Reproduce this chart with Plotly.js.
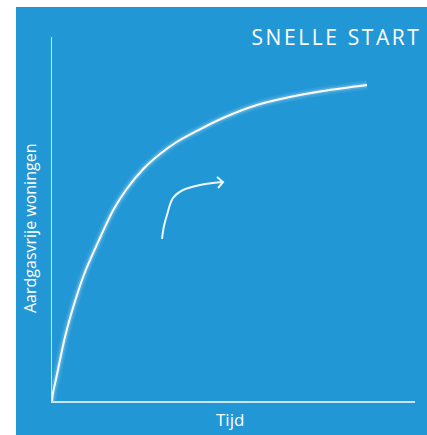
<!DOCTYPE html>
<html>
<head>
<meta charset="utf-8">
<script src="https://cdn.plot.ly/plotly-3.0.1.min.js"></script>
<style>
  html, body { margin: 0; padding: 0; background: #ffffff; width: 427px; height: 435px; overflow: hidden; }
  #chart { position: absolute; left: 16px; top: 7px; width: 411px; height: 428px; }
  .annotation[data-index="0"] .annotation-text { letter-spacing: 2.6px; }
</style>
</head>
<body>
<div id="chart"></div>
<script>
// Curve: growth of gas-free homes over time (relative units 0-100)
const curveX = [0, 0.17, 1.10, 2.20, 3.58, 5.43, 7.25, 9.09, 13.22, 16.89, 20.58, 25.15, 29.75, 34.35, 39.86, 47.11, 56.47, 65.56, 74.66, 86.78];
const curveY = [0, 1.65, 6.04, 11.26, 17.58, 24.45, 30.22, 35.44, 44.78, 52.47, 58.24, 63.74, 67.86, 71.15, 74.18, 77.75, 81.32, 83.52, 85.16, 86.81];
// Decorative arrow (shaft and open head)
const arrowX = [30.30, 30.85, 31.68, 33.33, 36.09, 40.77, 46.83];
const arrowY = [44.51, 48.08, 51.10, 55.77, 57.97, 59.34, 60.16];
const arrowHeadX = [45.45, 47.11, 45.73];
const arrowHeadY = [61.54, 60.16, 58.52];

const titleText = 'SNELLE START';
const xLabel = 'Tijd';
const yLabel = 'Aardgasvrije woningen';

const blue = '#2297d6';
const font = 'Open Sans, Noto Sans, sans-serif';

const traces = [
  { x: curveX, y: curveY, mode: 'lines', line: { color: 'rgba(255,255,255,0.08)', width: 9, shape: 'spline', smoothing: 1 }, hoverinfo: 'skip' },
  { x: curveX, y: curveY, mode: 'lines', line: { color: 'rgba(255,255,255,0.16)', width: 5, shape: 'spline', smoothing: 1 }, hoverinfo: 'skip' },
  { x: curveX, y: curveY, mode: 'lines', line: { color: '#ffffff', width: 2, shape: 'spline', smoothing: 1 } },
  { x: arrowX, y: arrowY, mode: 'lines', line: { color: '#eef7fd', width: 2, shape: 'spline', smoothing: 1 } },
  { x: arrowHeadX, y: arrowHeadY, mode: 'lines', line: { color: '#eef7fd', width: 2 } }
];

const layout = {
  width: 411, height: 428,
  margin: { l: 36, r: 12, t: 30, b: 34 },
  paper_bgcolor: blue,
  plot_bgcolor: blue,
  showlegend: false,
  xaxis: {
    range: [0, 100], showgrid: false, zeroline: false, showticklabels: false, ticks: '',
    showline: true, linecolor: 'rgba(255,255,255,0.75)', linewidth: 1.5, fixedrange: true
  },
  yaxis: {
    range: [0, 100], showgrid: false, zeroline: false, showticklabels: false, ticks: '',
    showline: true, linecolor: 'rgba(255,255,255,0.75)', linewidth: 1.5, fixedrange: true
  },
  annotations: [
    { text: titleText, xref: 'paper', yref: 'paper', x: 0.980, y: 1.0, xanchor: 'right', yanchor: 'middle',
      showarrow: false, font: { family: font, size: 21, color: '#ffffff' } },
    { text: xLabel, xref: 'paper', yref: 'paper', x: 0.49, y: -0.052, xanchor: 'center', yanchor: 'middle',
      showarrow: false, font: { family: font, size: 17, color: '#ffffff' } },
    { text: yLabel, xref: 'paper', yref: 'paper', x: -0.0606, y: 0.4725, xanchor: 'center', yanchor: 'middle', textangle: -90,
      showarrow: false, font: { family: font, size: 16, color: '#ffffff' } }
  ]
};

Plotly.newPlot('chart', traces, layout, { displayModeBar: false, staticPlot: true });
</script>
</body>
</html>
